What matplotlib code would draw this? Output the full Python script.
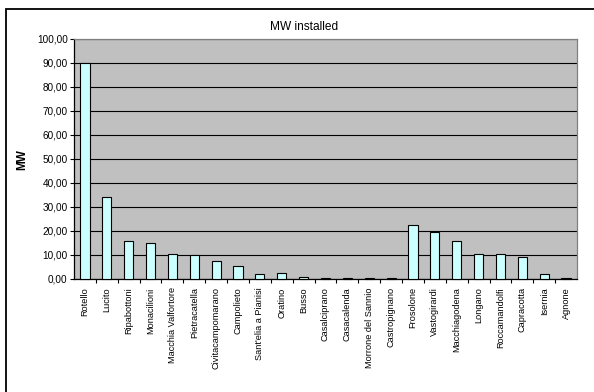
import matplotlib
matplotlib.use("Agg")
import matplotlib.pyplot as plt
from matplotlib.patches import Rectangle
from matplotlib.ticker import FuncFormatter, MultipleLocator

plt.rcParams['font.family'] = ['Liberation Sans', 'DejaVu Sans']

towns = ["Rotello", "Lucito", "Ripabottoni", "Monacilioni", "Macchia Valfortore",
         "Pietracatella", "Civitacampomarano", "Campolieto", "Sant'elia a Pianisi",
         "Oratino", "Busso", "Casalciprano", "Casacalenda", "Morrone del Sannio",
         "Castropignano", "Frosolone", "Vastogirardi", "Macchiagodena", "Longano",
         "Roccamandolfi", "Capracotta", "Isernia", "Agnone"]
mw = [90.0, 34.0, 16.0, 15.1, 10.2, 9.8, 7.5, 5.5, 2.0, 2.6, 1.0, 0.6, 0.6,
      0.4, 0.4, 22.3, 19.4, 16.0, 10.2, 10.2, 9.0, 2.2, 0.4]

fig = plt.figure(figsize=(5.94, 3.92), dpi=100)
fig.patch.set_facecolor("white")

# outer chart frame (only the top and left edges fall inside the image)
fig.add_artist(Rectangle((5.5 / 594, -0.1), 1.2, 1.1 - 9.5 / 392,
                         transform=fig.transFigure, fill=False,
                         edgecolor="black", linewidth=1.3))

ax = fig.add_axes([74 / 594, 1 - 279 / 392, (577 - 74) / 594, (279 - 38.5) / 392])
ax.set_facecolor("#C0C0C0")
x = range(len(towns))
ax.bar(x, mw, width=0.42, color="#CCFFFF", edgecolor="black", linewidth=0.8,
       zorder=3, clip_on=False)

ax.set_xlim(-0.5, len(towns) - 0.5)
ax.set_ylim(0, 100)
ax.yaxis.set_major_locator(MultipleLocator(10))
ax.yaxis.set_major_formatter(FuncFormatter(lambda v, p: f"{v:.2f}".replace(".", ",")))
ax.grid(axis="y", color="black", linewidth=0.8, zorder=1)
ax.set_axisbelow(True)

ax.set_xticks([i + 0.5 for i in range(len(towns) - 1)])
ax.set_xticklabels([])
ax.set_xticks(list(x), minor=True)
ax.set_xticklabels(towns, minor=True, rotation=90, fontsize=6.6)
ax.tick_params(axis="x", which="minor", length=0, pad=6)
ax.tick_params(axis="x", which="major", length=3, width=0.8, direction="out")
ax.tick_params(axis="y", length=3, width=0.8, labelsize=7.2, pad=1.5)

for side in ("top", "right"):
    ax.spines[side].set_color("#808080")
ax.spines["left"].set_color("black")
ax.spines["bottom"].set_color("black")
for s in ax.spines.values():
    s.set_linewidth(0.9)

fig.text(304 / 594, 1 - 27 / 392, "MW installed", ha="center", va="center", fontsize=8.6)
fig.text(22 / 594, 1 - 160 / 392, "MW", ha="center", va="center", fontsize=8.5,
         fontweight="bold", rotation=90)

fig.savefig("out.png", dpi=100)
